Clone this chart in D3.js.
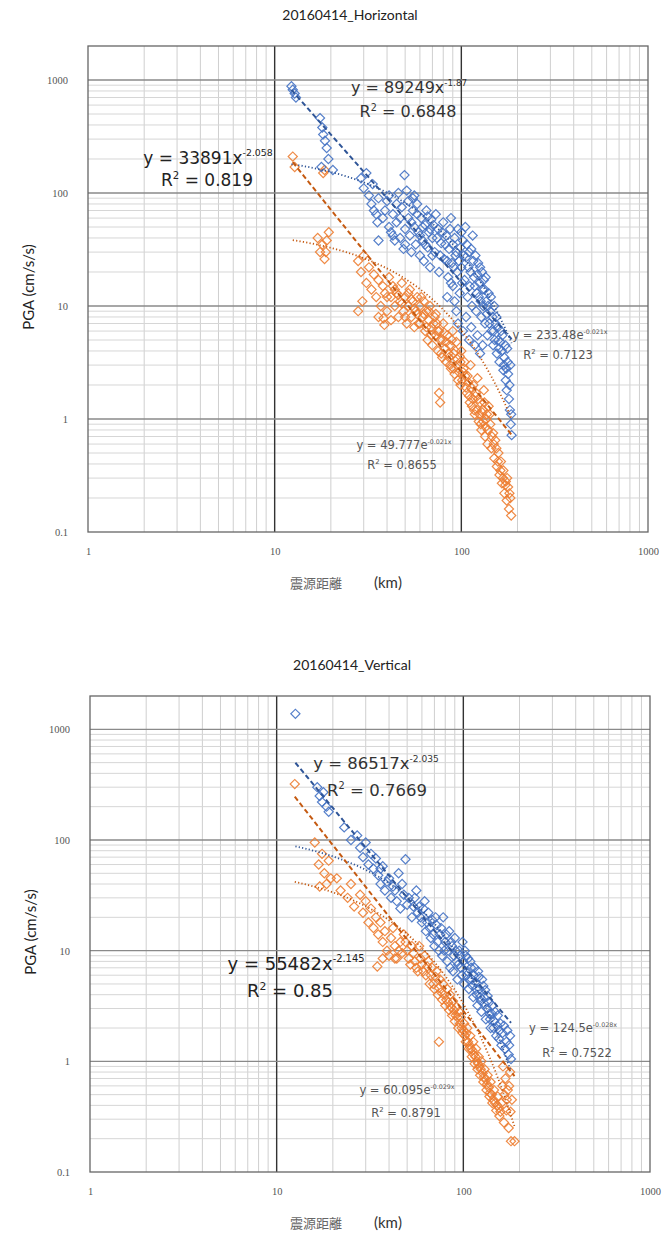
<!DOCTYPE html>
<html>
<head>
<meta charset="utf-8">
<script src="https://cdn.jsdelivr.net/npm/d3@7"></script>
<style>
  body { margin: 0; background: #fff; }
  svg { display: block; }
</style>
</head>
<body>
<svg id="chart" width="666" height="1236"></svg>
<script>
// ---- axis ticks ----
const xTickValues = [1, 10, 100, 1000];
const yTickValues = [0.1, 1, 10, 100, 1000];
const xTickLabels = ["1", "10", "100", "1000"];
const yTickLabels = ["0.1", "1", "10", "100", "1000"];

// ---- 2016-04-14 horizontal PGA: [hypocentral distance km, PGA cm/s/s] ----
const horizBlue = [
  [12.3, 880], [12.5, 820], [12.8, 760], [13.0, 700], [17.5, 460], [18.0, 380], [18.2, 330],
  [18.6, 290], [19.0, 250], [19.4, 200], [17.8, 170], [20.5, 160],
  [29, 135], [30, 110], [31, 150], [32, 95], [33, 80], [33.5, 120], [34, 70], [35, 65],
  [35.5, 55], [36, 90], [36, 38],
  [38, 60], [39, 70], [40, 85], [41, 50], [41, 95], [42, 45], [43, 65], [43, 42], [44, 38],
  [45, 55], [45, 80], [46, 100], [47, 40], [47, 60], [48, 75], [49, 32], [50, 48], [50, 35],
  [49.6, 144], [51, 105], [56, 95],
  [52, 60], [52, 85], [53, 42], [54, 30], [54, 55], [55, 70], [55, 90], [56, 50], [57, 35],
  [58, 80], [58, 65], [59, 45], [60, 28], [60, 42], [61, 60], [62, 38], [62, 50], [63, 25],
  [64, 52], [64, 35], [65, 70], [66, 33], [66, 62], [67, 45], [68, 22], [68, 48], [69, 58],
  [70, 40], [70, 28], [71, 52],
  [72, 30], [73, 65], [74, 40], [75, 48], [76, 20], [77, 28], [78, 36], [79, 45], [80, 55],
  [81, 26], [82, 35], [83, 42], [84, 25], [85, 18], [86, 32], [87, 48], [88, 60], [89, 24],
  [90, 15], [90, 35], [91, 22], [92, 40], [93, 28], [94, 30], [95, 20], [96, 48], [97, 25],
  [98, 13], [99, 33], [100, 22], [100, 45], [94, 9], [84, 12], [88, 16], [92, 11], [96, 7],
  [101, 16], [102, 38], [102, 6], [103, 28], [104, 17], [105, 50], [106, 27], [106, 8],
  [107, 35], [108, 12], [109, 22], [110, 30], [110, 5], [111, 15], [112, 20], [113, 32],
  [113, 6.5], [114, 10], [115, 42], [116, 25], [117, 18], [118, 15], [118, 4.5], [119, 28],
  [120, 9], [121, 13], [122, 19], [122, 5.5], [123, 24], [124, 12], [125, 16], [126, 22],
  [126, 3.8], [127, 11], [128, 8], [129, 20], [130, 14], [130, 4.5], [131, 10], [132, 17],
  [133, 14], [134, 7], [135, 18], [136, 11], [137, 8.5], [138, 5.5], [139, 10], [140, 13],
  [141, 7], [143, 9], [144, 12], [145, 6], [147, 8], [148, 4.5], [149, 6], [150, 10], [151, 5],
  [152, 7], [154, 8], [155, 3.8], [157, 6.5], [158, 5], [159, 4.2], [160, 3.2], [162, 4.8],
  [163, 6], [165, 4], [166, 5.5], [168, 2.7], [169, 3], [170, 3.5], [172, 4.5], [173, 2.2],
  [174, 2.8], [175, 1.8], [177, 3.2], [178, 2.5], [180, 1.5], [181, 2], [182, 1.2], [184, 0.9],
  [185, 1.1], [186, 0.72], [183, 3], [176, 4.2]
];
const horizOrange = [
  [12.5, 210], [12.8, 170], [18.5, 160], [18.2, 150],
  [17, 40], [17.5, 30], [18, 35], [18.5, 26], [19, 38], [19.5, 45], [18.8, 30],
  [28, 25], [29, 20], [30, 28], [31, 16], [32, 22], [33, 14], [34, 19], [35, 12], [36, 17],
  [37, 10], [38, 15], [39, 13], [40, 9], [38.7, 6.8], [38.3, 7.8], [28, 9], [29.5, 11],
  [36, 8], [40, 12], [42, 7.5],
  [41, 18], [42, 12], [43, 15], [44, 10], [44, 14], [45, 13], [46, 8], [46, 12.5], [47, 11],
  [48, 16], [48, 10.5], [49, 9], [50, 12], [50, 8], [51, 7], [52, 10], [52, 13], [53, 14],
  [54, 8], [54, 11.5], [55, 11], [56, 6.5], [56, 9.5], [57, 9], [58, 12], [58, 8.5], [59, 7],
  [60, 10], [60, 7], [61, 12],
  [62, 8], [63, 11], [63, 8.5], [64, 6], [65, 9], [65, 6.5], [66, 5], [67, 7.5], [67, 9],
  [68, 10], [69, 6.5], [69, 5.5], [70, 4.5], [71, 7], [72, 8], [73, 5.5], [73, 8.5], [74, 7],
  [75, 4], [75, 6], [76, 6], [77, 5], [78, 3.8], [79, 5], [79, 3.5], [80, 7], [81, 5.8],
  [82, 4.2], [83, 3.2], [83, 4.8], [84, 5.5], [85, 3.8], [86, 3.5], [87, 4.5], [87, 3],
  [88, 2.8], [89, 5], [90, 6], [91, 3.8], [91, 2.8], [92, 2.5], [93, 4], [94, 4.8], [95, 3],
  [95, 3.4], [96, 2.2], [97, 2.6], [98, 3.6], [99, 2], [99, 3.2], [100, 4], [76, 1.7], [77, 1.4],
  [101, 2.2], [102, 2.6], [103, 2.8], [104, 3.2], [105, 2.4], [106, 1.9], [107, 1.7], [108, 2.4],
  [109, 2.1], [110, 1.6], [111, 1.4], [112, 3], [113, 1.9], [114, 1.3], [115, 1.5], [116, 2],
  [117, 1.2], [118, 1.1], [119, 1.6], [120, 1.7], [121, 1.2], [122, 2.3], [123, 1.5],
  [124, 0.95], [125, 1.1], [126, 1.4], [127, 0.9], [128, 0.8], [129, 1.15], [130, 1.2],
  [131, 0.95], [132, 1.8], [133, 1.4], [134, 0.7], [135, 0.85], [136, 1], [137, 1.1],
  [138, 0.6], [139, 0.8], [140, 1.3], [142, 1.1],
  [143, 0.9], [145, 0.55], [146, 0.7], [148, 0.75], [149, 0.6], [150, 0.45], [152, 0.65],
  [154, 0.55], [155, 0.38], [157, 0.42], [158, 0.5], [160, 0.32], [162, 0.35], [163, 0.42],
  [165, 0.27], [167, 0.3], [168, 0.35], [170, 0.22], [172, 0.26], [173, 0.28], [175, 0.19],
  [176, 0.3], [178, 0.25], [180, 0.16], [181, 0.22], [183, 0.2], [185, 0.14]
];

// ---- 2016-04-14 vertical PGA ----
const vertBlue = [
  [12.6, 1380],
  [16.5, 300], [17, 250], [17.5, 220], [18.5, 200], [19, 180], [17.8, 270],
  [23, 130], [25, 100], [27, 110], [28, 85], [29, 70], [30, 95], [31, 60], [32, 75], [33, 55],
  [34, 68], [35, 48], [36, 40], [36, 55], [37, 58], [38, 35], [39, 42], [40, 45], [41, 30],
  [42, 38], [43, 35], [44, 28], [45, 50], [46, 24], [47, 40], [48, 32], [50, 26], [49, 67],
  [51, 30], [53, 20], [54, 25], [55, 30], [56, 35], [57, 22],
  [58, 25], [59, 20], [60, 18], [61, 24], [62, 28], [63, 15], [64, 18], [65, 22], [66, 16],
  [67, 13], [68, 19], [69, 14], [70, 11], [71, 20], [72, 17], [73, 12], [74, 10], [75, 14],
  [76, 16], [77, 9], [78, 20], [79, 10], [80, 12], [81, 14], [82, 8], [83, 10], [84, 15],
  [85, 7], [86, 12], [87, 11], [88, 6.5], [89, 9], [90, 13], [91, 10], [92, 8], [93, 5.5],
  [94, 7.5], [95, 10], [96, 9],
  [97, 7], [98, 6], [99, 12], [100, 8], [101, 5], [102, 10], [103, 9], [104, 6], [105, 6.5],
  [106, 8.5], [107, 4.5], [108, 5.5], [109, 8], [110, 7], [111, 5.5], [112, 4.8], [113, 3.8],
  [114, 6], [115, 7], [116, 5.2], [117, 4.5], [118, 4], [119, 3.2], [120, 6.5], [121, 5.8],
  [122, 4.5], [123, 3.8], [124, 3.5], [125, 2.8], [126, 5.5], [128, 4.8], [129, 3.8],
  [130, 3.3], [131, 4.4], [132, 2.4], [134, 3], [135, 3.9], [137, 3.4], [138, 2.7], [139, 2.4],
  [140, 2], [142, 2.7], [143, 3.2], [145, 2], [146, 2.3], [148, 2.8], [150, 1.7], [152, 2.1],
  [153, 2.6], [155, 1.6], [156, 1.9], [158, 2.2], [160, 1.4], [162, 1.8], [165, 2.1],
  [167, 1.3], [170, 1.5], [172, 1.9], [175, 1.15], [176, 1.4], [178, 1.7], [180, 1.05]
];
const vertOrange = [
  [12.5, 320],
  [16, 95], [16.8, 60], [17.5, 75], [18, 50], [18.5, 40], [19, 65], [19.5, 45], [17, 38],
  [21, 45], [22, 35], [24, 30], [25, 40], [26, 25], [28, 32], [29, 22], [30, 28], [31, 18],
  [32, 24], [33, 16], [34, 20], [35, 14], [34.6, 7.2],
  [36, 18], [37, 12], [38, 15], [39, 10], [40, 9], [41, 13], [42, 16], [43, 11], [44, 8.5],
  [45, 10], [46, 12], [47, 9.5], [48, 14], [49, 12], [50, 10], [51, 8.5], [52, 7.5], [53, 11],
  [54, 9.5], [55, 8], [56, 7], [57, 6.5], [37, 8.5], [43, 8.5],
  [58, 11], [59, 8.5], [60, 7.5], [61, 6.5], [62, 9], [63, 6], [64, 7.2], [65, 8], [66, 5],
  [67, 6], [68, 7], [69, 5], [70, 4.5], [71, 5.8], [72, 6.5], [73, 4], [74, 4.6], [75, 5.5],
  [76, 4.2], [77, 3.6], [78, 5], [79, 4], [80, 3.2], [81, 3.6], [82, 4.5], [83, 3.4],
  [84, 2.9], [85, 4], [86, 3.1], [87, 2.6], [88, 3.5], [89, 2.9], [90, 2.3], [91, 2.6],
  [92, 3.1], [93, 2.5], [94, 2], [95, 2.8], [96, 2.2], [74, 1.5],
  [97, 2.5], [98, 2], [99, 1.8], [100, 1.9], [101, 2.2], [102, 1.7], [103, 1.5], [104, 1.8],
  [105, 2], [106, 1.5], [107, 1.3], [108, 1.4], [109, 1.7], [110, 1.3], [111, 1.1],
  [112, 1.25], [113, 1.5], [114, 1.15], [115, 0.95], [116, 1.1], [117, 1.3], [118, 1],
  [119, 0.85], [120, 0.95], [121, 1.1], [122, 0.9], [123, 0.75], [124, 0.85], [125, 1],
  [127, 0.78], [128, 0.65], [129, 0.72], [130, 0.85], [132, 0.68], [133, 0.55], [134, 0.62],
  [135, 0.75], [137, 0.58], [138, 0.48], [139, 0.52], [140, 0.65], [142, 0.5], [143, 0.42],
  [145, 0.45], [146, 0.55], [148, 0.42], [150, 0.36], [152, 0.4], [153, 0.48], [155, 0.38],
  [156, 0.32], [158, 0.35], [160, 0.42], [162, 0.6], [163, 0.9], [165, 0.28], [166, 0.5],
  [168, 0.7], [170, 0.36], [171, 0.45], [173, 0.55], [175, 0.25], [176, 0.6], [178, 0.8],
  [179, 0.35], [180, 0.19], [182, 0.45], [188, 0.19]
];

// ---- regression results: power y = a·x^b, exponential y = a·e^(b·x) ----
const horizBluePower = { a: 89249, b: -1.87, aText: "89249", bText: "-1.87", r2: "0.6848" };
const horizBlueExp = { a: 233.48, b: -0.021, aText: "233.48", bText: "-0.021x", r2: "0.7123" };
const horizOrangePower = { a: 33891, b: -2.058, aText: "33891", bText: "-2.058", r2: "0.819" };
const horizOrangeExp = { a: 49.777, b: -0.021, aText: "49.777", bText: "-0.021x", r2: "0.8655" };
const vertBluePower = { a: 86517, b: -2.035, aText: "86517", bText: "-2.035", r2: "0.7669" };
const vertBlueExp = { a: 124.5, b: -0.028, aText: "124.5", bText: "-0.028x", r2: "0.7522" };
const vertOrangePower = { a: 55482, b: -2.145, aText: "55482", bText: "-2.145", r2: "0.85" };
const vertOrangeExp = { a: 60.095, b: -0.029, aText: "60.095", bText: "-0.029x", r2: "0.8791" };

const BLUE = "#4472C4", ORANGE = "#ED7D31";
const BLUE_FIT = "#2F5597", ORANGE_FIT = "#C55A11";
const SANS = "Lato, 'Open Sans', sans-serif";
const WIDE = "'DejaVu Sans', 'Open Sans', sans-serif";
const SERIF = "'Liberation Serif', 'DejaVu Serif', serif";

const svg = d3.select("#chart");

function drawPanel(o) {
  const g = svg.append("g");
  const x = d3.scaleLog().domain([1, 1000]).range([o.left, o.right]);
  const y = d3.scaleLog().domain([0.1, 2000]).range([o.bottom, o.top]);

  // minor grid at 2..9 of every decade
  const minors = [];
  [1, 10, 100].forEach(d => { for (let k = 2; k <= 9; k++) minors.push(d * k); });
  const yMinors = [];
  [0.1, 1, 10, 100, 1000].forEach(d => { for (let k = 2; k <= 9; k++) if (d * k < 2000) yMinors.push(d * k); });

  g.append("g").selectAll("line").data(minors).join("line")
    .attr("x1", d => x(d)).attr("x2", d => x(d))
    .attr("y1", o.top).attr("y2", o.bottom)
    .attr("stroke", "#cfcfcf").attr("stroke-width", 1);
  g.append("g").selectAll("line").data(yMinors).join("line")
    .attr("x1", o.left).attr("x2", o.right)
    .attr("y1", d => y(d)).attr("y2", d => y(d))
    .attr("stroke", "#d6d6d6").attr("stroke-width", 1);

  // decade grid
  g.append("g").selectAll("line").data([10, 100]).join("line")
    .attr("x1", d => x(d)).attr("x2", d => x(d))
    .attr("y1", o.top).attr("y2", o.bottom)
    .attr("stroke", "#333").attr("stroke-width", 1.4);
  g.append("g").selectAll("line").data([1, 10, 100, 1000]).join("line")
    .attr("x1", o.left).attr("x2", o.right)
    .attr("y1", d => y(d)).attr("y2", d => y(d))
    .attr("stroke", "#8a8a8a").attr("stroke-width", 1.3);

  g.append("rect")
    .attr("x", o.left).attr("y", o.top)
    .attr("width", o.right - o.left).attr("height", o.bottom - o.top)
    .attr("fill", "none").attr("stroke", "#666").attr("stroke-width", 1.3);

  // axis labels
  const xAxis = d3.axisBottom(x).tickValues(xTickValues)
    .tickFormat((d, i) => xTickLabels[i]).tickSize(0).tickPadding(16);
  const yAxis = d3.axisLeft(y).tickValues(yTickValues)
    .tickFormat((d, i) => yTickLabels[i]).tickSize(0).tickPadding(20);
  const gx = g.append("g").attr("transform", `translate(0,${o.bottom})`).call(xAxis);
  const gy = g.append("g").attr("transform", `translate(${o.left},0)`).call(yAxis);
  [gx, gy].forEach(a => {
    a.select(".domain").remove();
    a.selectAll("text").attr("font-family", SERIF).attr("font-size", 10.5).attr("fill", "#555");
  });

  const clipId = "clip" + o.id;
  svg.append("clipPath").attr("id", clipId).append("rect")
    .attr("x", o.left).attr("y", o.top).attr("width", o.right - o.left).attr("height", o.bottom - o.top);
  const plot = g.append("g").attr("clip-path", `url(#${clipId})`);

  // hollow diamond markers
  const diamond = d3.symbol(d3.symbolSquare, 42);
  function drawSeries(data, color) {
    plot.append("g").selectAll("path").data(data).join("path")
      .attr("d", diamond)
      .attr("transform", d => `translate(${x(d[0])},${y(d[1])}) rotate(45)`)
      .attr("fill", "none").attr("stroke", color).attr("stroke-width", 1.2).attr("stroke-opacity", 0.9);
  }
  drawSeries(o.orange, ORANGE);
  drawSeries(o.blue, BLUE);

  // trend lines across each series' distance range
  const line = d3.line().x(d => x(d[0])).y(d => y(d[1]));
  function trend(data, fit, kind, color) {
    const [lo, hi] = d3.extent(data, d => d[0]);
    const xs = d3.range(0, 61).map(i => lo * Math.pow(hi / lo, i / 60));
    const pts = xs.map(v => [v, kind === "pow" ? fit.a * Math.pow(v, fit.b) : fit.a * Math.exp(fit.b * v)]);
    plot.append("path").attr("d", line(pts)).attr("fill", "none")
      .attr("stroke", color)
      .attr("stroke-width", kind === "pow" ? 2 : 1.8)
      .attr("stroke-dasharray", kind === "pow" ? "5,3" : "1.2,2.2");
  }
  trend(o.blue, o.bluePow, "pow", BLUE_FIT);
  trend(o.blue, o.blueExp, "exp", BLUE_FIT);
  trend(o.orange, o.orangePow, "pow", ORANGE_FIT);
  trend(o.orange, o.orangeExp, "exp", ORANGE_FIT);

  // equation labels
  o.labels.forEach(L => {
    const t = g.append("text").attr("x", L.x).attr("y", L.y)
      .attr("text-anchor", "middle").attr("font-family", WIDE)
      .attr("font-size", L.size).attr("fill", L.color);
    t.append("tspan").text(`y = ${L.fit.aText}${L.kind === "pow" ? "x" : "e"}`);
    t.append("tspan").attr("dy", -L.size * 0.45).attr("font-size", L.size * 0.55).text(L.fit.bText);
    const r = g.append("text").attr("x", L.rx).attr("y", L.y + L.gap)
      .attr("text-anchor", "middle").attr("font-family", WIDE)
      .attr("font-size", L.size).attr("fill", L.color);
    r.append("tspan").text("R");
    r.append("tspan").attr("dy", -L.size * 0.4).attr("font-size", L.size * 0.6).text("2");
    r.append("tspan").attr("dy", L.size * 0.4).text(` = ${L.fit.r2}`);
  });

  // titles
  g.append("text").attr("x", o.titleX).attr("y", o.titleY).attr("text-anchor", "middle")
    .attr("font-family", SANS).attr("font-size", 14).attr("fill", "#222")
    .text(o.title);
  g.append("text")
    .attr("transform", `translate(${o.left - 54},${(o.top + o.bottom) / 2 - 2}) rotate(-90)`)
    .attr("text-anchor", "middle")
    .attr("font-family", SANS).attr("font-size", 15).attr("fill", "#222")
    .text("PGA (cm/s/s)");
  const xt = g.append("text").attr("x", 290).attr("y", o.bottom + 56).attr("text-anchor", "start")
    .attr("font-size", 15).attr("fill", "#333");
  xt.append("tspan").attr("font-family", "'Noto Sans CJK JP', 'Noto Sans CJK TC', sans-serif")
    .attr("font-size", 13).attr("fill", "#666").text("震源距離");
  xt.append("tspan").attr("font-family", SANS).attr("x", 374).text("(km)");
}

drawPanel({
  id: "h", title: "20160414_Horizontal", titleX: 350, titleY: 20,
  left: 88, right: 648, top: 46, bottom: 532,
  blue: horizBlue, orange: horizOrange,
  bluePow: horizBluePower, blueExp: horizBlueExp,
  orangePow: horizOrangePower, orangeExp: horizOrangeExp,
  labels: [
    { fit: horizBluePower, kind: "pow", x: 409, rx: 408, y: 93, gap: 24, size: 16, color: "#333" },
    { fit: horizOrangePower, kind: "pow", x: 208, rx: 207, y: 164, gap: 22, size: 17, color: "#222" },
    { fit: horizBlueExp, kind: "exp", x: 560, rx: 558, y: 339, gap: 20, size: 11.5, color: "#555" },
    { fit: horizOrangeExp, kind: "exp", x: 404, rx: 402, y: 449, gap: 20, size: 11.5, color: "#555" }
  ]
});

drawPanel({
  id: "v", title: "20160414_Vertical", titleX: 352, titleY: 670,
  left: 90, right: 650, top: 696, bottom: 1172,
  blue: vertBlue, orange: vertOrange,
  bluePow: vertBluePower, blueExp: vertBlueExp,
  orangePow: vertOrangePower, orangeExp: vertOrangeExp,
  labels: [
    { fit: vertBluePower, kind: "pow", x: 376, rx: 377, y: 769, gap: 27, size: 16.5, color: "#333" },
    { fit: vertOrangePower, kind: "pow", x: 296, rx: 290, y: 970, gap: 27, size: 18, color: "#222" },
    { fit: vertBlueExp, kind: "exp", x: 573, rx: 577, y: 1032, gap: 25, size: 11.5, color: "#555" },
    { fit: vertOrangeExp, kind: "exp", x: 407, rx: 406, y: 1094, gap: 23, size: 11.5, color: "#555" }
  ]
});
</script>
</body>
</html>
